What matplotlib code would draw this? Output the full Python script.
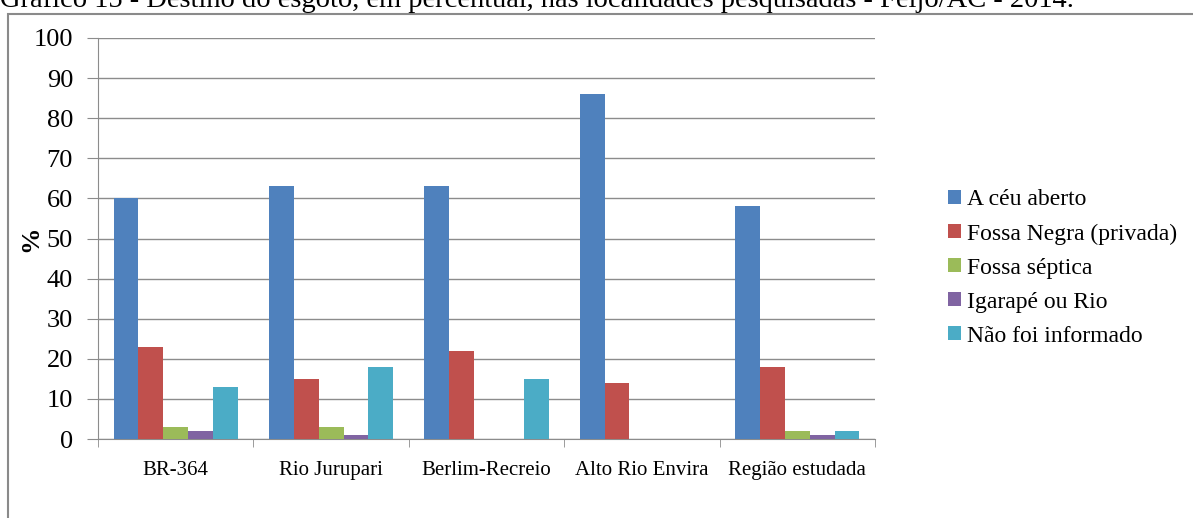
import matplotlib.pyplot as plt
import matplotlib.patches as mpatches
import numpy as np

plt.rcParams['font.family'] = ['Liberation Serif', 'DejaVu Serif']

# data
locais = ['BR-364', 'Rio Jurupari', 'Berlim-Recreio', 'Alto Rio Envira', 'Região estudada']
ceu_aberto = [60, 63, 63, 86, 58]
fossa_negra = [23, 15, 22, 14, 18]
fossa_septica = [3, 3, 0, 0, 2]
igarape_rio = [2, 1, 0, 0, 1]
nao_informado = [13, 18, 15, 0, 2]

series_names = ['A céu aberto', 'Fossa Negra (privada)', 'Fossa séptica',
                'Igarapé ou Rio', 'Não foi informado']
series = [ceu_aberto, fossa_negra, fossa_septica, igarape_rio, nao_informado]
colors = ['#4F81BD', '#C0504D', '#9BBB59', '#8064A2', '#4BACC6']

W, H = 1193, 518
fig = plt.figure(figsize=(W / 100, H / 100), dpi=100)

# outer frame of the chart area (runs off right/bottom edge)
fig.patches.append(mpatches.Rectangle((8 / W, -0.1), 1.2, 1 - 14 / H + 0.1,
                                      transform=fig.transFigure, fill=False,
                                      edgecolor='#8a8a8a', linewidth=1.5))

# title, cut off at the top like in the original
fig.text(0.0, 1 - 7 / H, 'Gráfico 15 - Destino do esgoto, em percentual, nas localidades '
         'pesquisadas - Feijó/AC - 2014.', fontsize=20.5, va='baseline', ha='left')

ax = fig.add_axes([98 / W, 1 - 439 / H, (875 - 98) / W, (439 - 38) / H])

x = np.arange(len(locais))
bw = 0.16
for i, (vals, name, c) in enumerate(zip(series, series_names, colors)):
    ax.bar(x + (i - 2) * bw, vals, width=bw, color=c, label=name, zorder=3)

ax.set_xlim(-0.5, len(locais) - 0.5)
ax.set_ylim(0, 100)
ax.set_yticks(range(0, 101, 10))
ax.yaxis.grid(True, color='#8c8c8c', linewidth=1, zorder=0)
ax.tick_params(axis='y', labelsize=19, length=8, color='#8c8c8c', pad=10)
ax.set_xticks(x)
ax.set_xticklabels(locais, fontsize=15)
ax.set_xticks(np.arange(-0.5, len(locais)), minor=True)
ax.tick_params(axis='x', which='major', length=0, pad=16)
ax.tick_params(axis='x', which='minor', length=6, color='#8c8c8c')
for s in ['top', 'right']:
    ax.spines[s].set_visible(False)
for s in ['left', 'bottom']:
    ax.spines[s].set_color('#8c8c8c')
ax.set_ylabel('%', fontsize=19, fontweight='bold', labelpad=-6)

ax.legend(loc='center left', bbox_to_anchor=(939 / W, 1 - 268 / H),
          bbox_transform=fig.transFigure, frameon=False, fontsize=17,
          handlelength=0.55, handleheight=0.55, handletextpad=0.25,
          labelspacing=0.55, borderaxespad=0)

fig.savefig('out.png', dpi=100)
